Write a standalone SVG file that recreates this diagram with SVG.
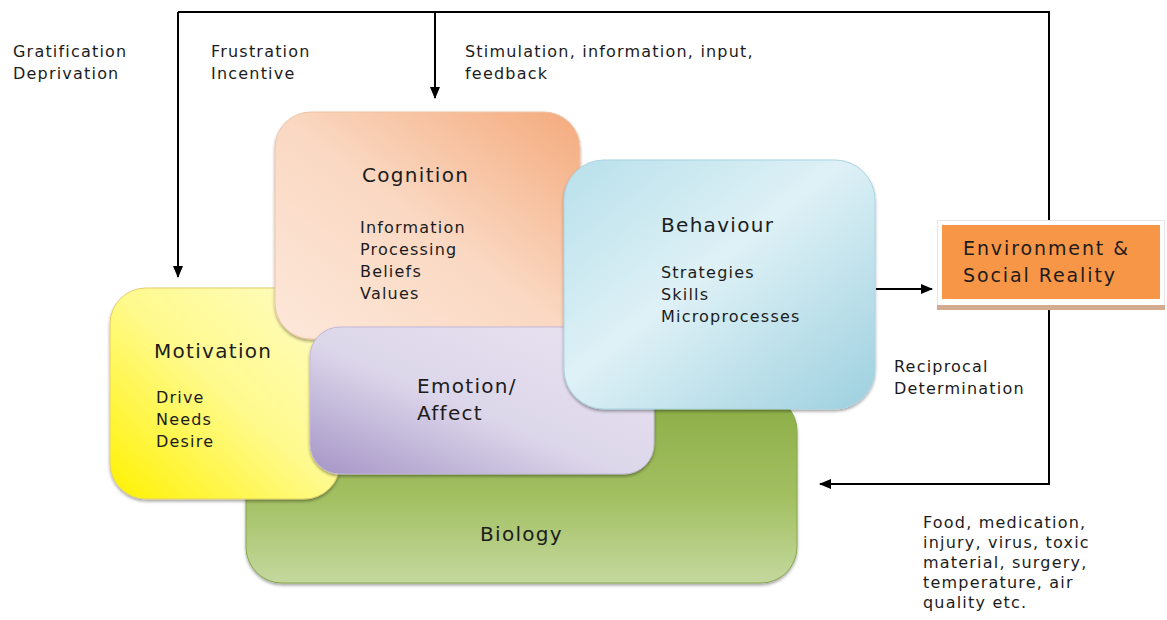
<svg xmlns="http://www.w3.org/2000/svg" width="1167" height="620" viewBox="0 0 1167 620">
<style>
text{font-family:"DejaVu Sans","Verdana",sans-serif;fill:#1c1c1c}
.h{font-size:20px;letter-spacing:1.3px}
.b{font-size:16px;letter-spacing:1.2px}
.e{font-size:19px;letter-spacing:1.9px}
.ln{stroke:#000;stroke-width:2;fill:none}
</style>
<defs>
<marker id="ah" markerWidth="12" markerHeight="10" refX="11" refY="5" orient="auto" markerUnits="userSpaceOnUse"><path d="M0,0 L12,5 L0,10 Z" fill="#000"/></marker>
<filter id="sh" x="-5%" y="-5%" width="110%" height="115%"><feDropShadow dx="0" dy="2" stdDeviation="1.5" flood-color="#000" flood-opacity="0.35"/></filter>
<linearGradient id="gBio" x1="0" y1="0" x2="0" y2="1"><stop offset="0" stop-color="#8aad45"/><stop offset="0.55" stop-color="#a3c062"/><stop offset="1" stop-color="#c4d89e"/></linearGradient>
<linearGradient id="gMot" x1="0" y1="1" x2="1" y2="0"><stop offset="0" stop-color="#fff200"/><stop offset="0.5" stop-color="#fffa8c"/><stop offset="1" stop-color="#fffcc8"/></linearGradient>
<linearGradient id="gCog" x1="1" y1="0" x2="0" y2="1"><stop offset="0" stop-color="#f4aa7c"/><stop offset="0.5" stop-color="#fad8c2"/><stop offset="1" stop-color="#fde8da"/></linearGradient>
<linearGradient id="gEmo" x1="0" y1="1" x2="1" y2="0"><stop offset="0" stop-color="#a594c6"/><stop offset="0.45" stop-color="#dcd6ea"/><stop offset="0.85" stop-color="#e6e0ef"/><stop offset="1" stop-color="#cdc2df"/></linearGradient>
<linearGradient id="gBeh" x1="0" y1="0" x2="1" y2="1"><stop offset="0" stop-color="#b8e0eb"/><stop offset="0.45" stop-color="#def1f6"/><stop offset="1" stop-color="#9dd0df"/></linearGradient>
</defs>
<rect width="1167" height="620" fill="#fff"/>
<g id="connectors">
<polyline class="ln" points="178,12 1049,12 1049,484 820,484" marker-end="url(#ah)"/>
<line class="ln" x1="178" y1="12" x2="178" y2="277" marker-end="url(#ah)"/>
<line class="ln" x1="435" y1="12" x2="435" y2="98" marker-end="url(#ah)"/>
<line class="ln" x1="876" y1="289" x2="932" y2="289" marker-end="url(#ah)"/>
</g>
<g id="labels">
<text class="b" x="13" y="57">Gratification</text>
<text class="b" x="13" y="79">Deprivation</text>
<text class="b" x="211" y="57">Frustration</text>
<text class="b" x="211" y="79">Incentive</text>
<text class="b" x="465" y="57">Stimulation, information, input,</text>
<text class="b" x="465" y="79">feedback</text>
<text class="b" x="894" y="372">Reciprocal</text>
<text class="b" x="894" y="394">Determination</text>
<text class="b" x="923" y="528">Food, medication,</text>
<text class="b" x="923" y="548">injury, virus, toxic</text>
<text class="b" x="923" y="568">material,  surgery,</text>
<text class="b" x="923" y="588">temperature, air</text>
<text class="b" x="923" y="608">quality etc.</text>
</g>
<g id="biology">
<rect x="246" y="395" width="551" height="188" rx="36" fill="url(#gBio)" stroke="#86a64a" stroke-width="1" filter="url(#sh)"/>
<text class="h" x="480" y="541">Biology</text>
</g>
<g id="motivation">
<rect x="110" y="288" width="230" height="211" rx="36" fill="url(#gMot)" stroke="#e2cf6a" stroke-width="1" filter="url(#sh)"/>
<text class="h" x="154" y="358">Motivation</text>
<text class="b" x="156" y="403">Drive</text>
<text class="b" x="156" y="425">Needs</text>
<text class="b" x="156" y="447">Desire</text>
</g>
<g id="cognition">
<rect x="275" y="112" width="305" height="227" rx="36" fill="url(#gCog)" stroke="#f0c4a4" stroke-width="1" filter="url(#sh)"/>
<text class="h" x="362" y="182">Cognition</text>
<text class="b" x="360" y="233">Information</text>
<text class="b" x="360" y="255">Processing</text>
<text class="b" x="360" y="277">Beliefs</text>
<text class="b" x="360" y="299">Values</text>
</g>
<g id="emotion">
<rect x="310" y="327" width="344" height="147" rx="30" fill="url(#gEmo)" stroke="#c4bad8" stroke-width="1" filter="url(#sh)"/>
<text class="h" x="417" y="393">Emotion/</text>
<text class="h" x="417" y="420">Affect</text>
</g>
<g id="behaviour">
<rect x="564" y="160" width="311" height="249" rx="40" fill="url(#gBeh)" stroke="#a9d4e0" stroke-width="1" filter="url(#sh)"/>
<text class="h" x="661" y="232">Behaviour</text>
<text class="b" x="661" y="278">Strategies</text>
<text class="b" x="661" y="300">Skills</text>
<text class="b" x="661" y="322">Microprocesses</text>
</g>
<g id="environment">
<rect x="937.5" y="220.5" width="227" height="85" fill="#fff" stroke="#e6e6e6" stroke-width="1"/>
<rect x="937" y="305" width="228" height="5" fill="#d3ab90"/>
<rect x="942" y="225" width="218" height="74" fill="#f79646"/>
<text class="e" x="963" y="255">Environment &amp;</text>
<text class="e" x="963" y="282">Social Reality</text>
</g>
</svg>
